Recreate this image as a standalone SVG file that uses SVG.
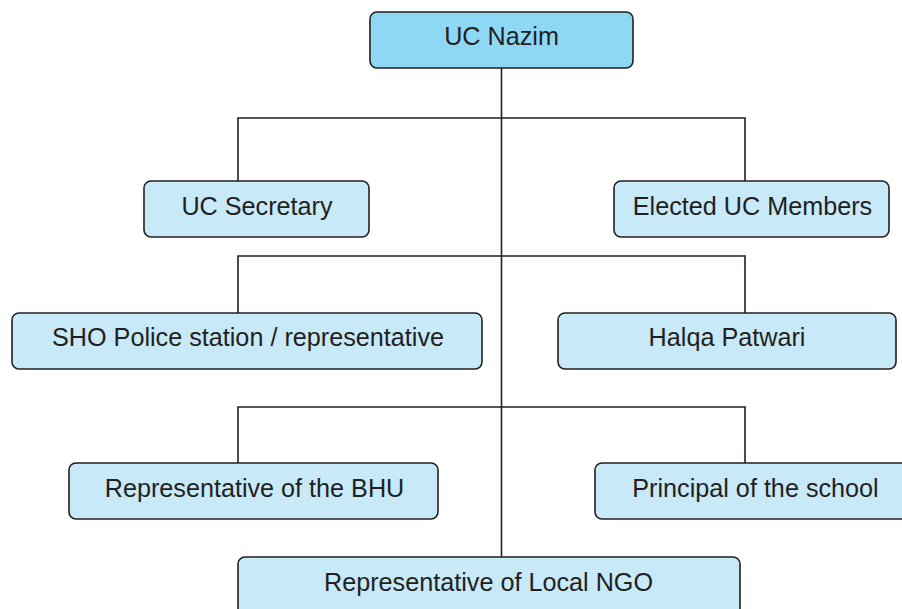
<svg xmlns="http://www.w3.org/2000/svg" width="902" height="609" viewBox="0 0 902 609">
<style>
.box{fill:#c8e9f8;stroke:#231f20;stroke-width:1.6}
.top{fill:#8ed8f6}
.lbl{font-family:"Liberation Sans",Arial,sans-serif;font-size:25.2px;fill:#231f20;text-anchor:middle}
.conn{stroke:#231f20;stroke-width:1.6;fill:none}
</style>
<rect width="902" height="609" fill="#ffffff"/>
<g id="connectors">
<path class="conn" d="M501.5 68 V557"/>
<path class="conn" d="M238 181 V118 H745 V181"/>
<path class="conn" d="M238 313 V256 H745 V313"/>
<path class="conn" d="M238 463 V407 H745 V463"/>
</g>
<g id="uc-nazim"><rect class="box top" x="370" y="12" width="263" height="56" rx="7"/><text class="lbl" x="501.5" y="45">UC Nazim</text></g>
<g id="uc-secretary"><rect class="box" x="144" y="181" width="225" height="56" rx="7"/><text class="lbl" x="257" y="215">UC Secretary</text></g>
<g id="elected-members"><rect class="box" x="614" y="181" width="275" height="56" rx="7"/><text class="lbl" x="752.5" y="215">Elected UC Members</text></g>
<g id="sho"><rect class="box" x="12" y="313" width="470" height="56" rx="7"/><text class="lbl" x="248" y="346">SHO Police station / representative</text></g>
<g id="halqa-patwari"><rect class="box" x="558" y="313" width="338" height="56" rx="7"/><text class="lbl" x="727" y="346">Halqa Patwari</text></g>
<g id="bhu"><rect class="box" x="69" y="463" width="369" height="56" rx="7"/><text class="lbl" x="254.5" y="497">Representative of the BHU</text></g>
<g id="principal"><rect class="box" x="595" y="463" width="330" height="56" rx="7"/><text class="lbl" x="755.5" y="497">Principal of the school</text></g>
<g id="ngo"><rect class="box" x="238" y="557" width="502" height="70" rx="7"/><text class="lbl" x="488.5" y="591">Representative of Local NGO</text></g>
</svg>
